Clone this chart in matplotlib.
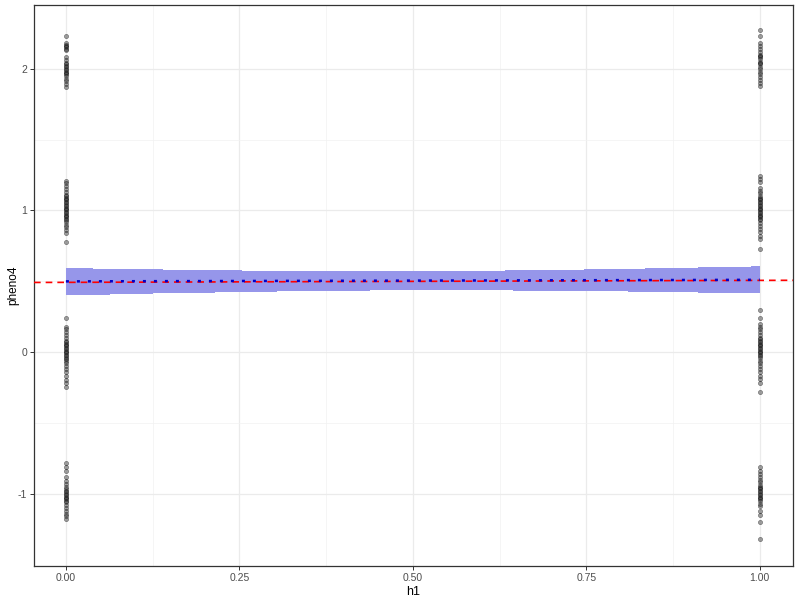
import matplotlib
matplotlib.use("Agg")
import matplotlib.pyplot as plt
import numpy as np

plt.rcParams['font.family'] = ['Liberation Sans', 'DejaVu Sans']

# pheno4 values, for h1 = 0 and h1 = 1
pheno4_at_0 = [2.23, 2.18, 2.17, 2.16, 2.15, 2.14, 2.13, 2.08, 2.06, 2.04, 2.03, 2.02,
               2.01, 2.00, 1.99, 1.98, 1.97, 1.96, 1.95, 1.93, 1.91, 1.89, 1.87,
               1.21, 1.19, 1.17, 1.15, 1.13, 1.11, 1.10, 1.09, 1.08, 1.07, 1.06, 1.05,
               1.04, 1.03, 1.02, 1.01, 1.00, 0.99, 0.98, 0.97, 0.96, 0.95, 0.94, 0.93,
               0.92, 0.90, 0.88, 0.86, 0.84, 0.78,
               0.24, 0.18, 0.16, 0.14, 0.12, 0.10, 0.08, 0.07, 0.06, 0.05, 0.04, 0.03,
               0.02, 0.01, 0.0, -0.01, -0.02, -0.03, -0.04, -0.05, -0.06, -0.08, -0.10,
               -0.12, -0.14, -0.17, -0.20, -0.22, -0.25,
               -0.78, -0.81, -0.84, -0.88, -0.91, -0.93, -0.95, -0.97, -0.98, -0.99,
               -1.00, -1.01, -1.02, -1.03, -1.04, -1.05, -1.06, -1.08, -1.10, -1.12,
               -1.14, -1.16, -1.18]
pheno4_at_1 = [2.27, 2.23, 2.18, 2.16, 2.14, 2.12, 2.10, 2.09, 2.08, 2.07, 2.05, 2.04,
               2.03, 2.01, 2.00, 1.98, 1.96, 1.94, 1.92, 1.90, 1.88,
               1.24, 1.22, 1.20, 1.16, 1.14, 1.12, 1.10, 1.09, 1.08, 1.07, 1.06, 1.05,
               1.04, 1.03, 1.02, 1.01, 1.00, 0.99, 0.98, 0.97, 0.96, 0.95, 0.94, 0.93,
               0.91, 0.89, 0.87, 0.85, 0.82, 0.80, 0.73,
               0.30, 0.24, 0.20, 0.18, 0.16, 0.14, 0.12, 0.10, 0.09, 0.08, 0.07, 0.06,
               0.05, 0.04, 0.03, 0.02, 0.01, 0.0, -0.01, -0.02, -0.03, -0.04, -0.06,
               -0.08, -0.10, -0.12, -0.14, -0.17, -0.19, -0.22, -0.28,
               -0.81, -0.84, -0.86, -0.88, -0.90, -0.92, -0.94, -0.95, -0.96, -0.97,
               -0.98, -0.99, -1.00, -1.01, -1.02, -1.03, -1.04, -1.05, -1.07, -1.09,
               -1.12, -1.15, -1.20, -1.32]

# stepped confidence band
band_x = [0, 0.039, 0.063, 0.125, 0.140, 0.215, 0.254, 0.304, 0.438, 0.633,
          0.644, 0.746, 0.810, 0.834, 0.911, 0.988, 1.0]
band_hi = [0.593, 0.586, 0.586, 0.586, 0.579, 0.579, 0.572, 0.572, 0.572, 0.579,
           0.579, 0.586, 0.586, 0.593, 0.600, 0.607]
band_lo = [0.405, 0.405, 0.412, 0.419, 0.419, 0.427, 0.427, 0.434, 0.441, 0.441,
           0.434, 0.434, 0.427, 0.427, 0.419, 0.419]

fit_x = [0, 1]
fit_y = [0.499, 0.510]
ref_point = (0, 0.492)
ref_slope = 0.014

fig = plt.figure(figsize=(8, 6), dpi=100)
ax = fig.add_axes([0.0425, 0.0567, 0.9488, 0.935])

ax.fill_between(band_x, band_hi + [band_hi[-1]], band_lo + [band_lo[-1]],
                step="post", color="#9696EA", linewidth=0, zorder=2)

ax.scatter(np.zeros(len(pheno4_at_0)), pheno4_at_0, s=9, facecolor="#333333",
           edgecolor="#000000", linewidth=0.5, alpha=0.45, zorder=3)
ax.scatter(np.ones(len(pheno4_at_1)), pheno4_at_1, s=9, facecolor="#333333",
           edgecolor="#000000", linewidth=0.5, alpha=0.45, zorder=3)

ax.axline(ref_point, slope=ref_slope, color="#FF0000", linewidth=1.2,
          linestyle=(0, (4, 3)), zorder=4)
ax.plot(fit_x, fit_y, color="#0000CC", linewidth=1.8, linestyle=(0, (1.2, 3.2)), zorder=5)

ax.set_xlim(-0.046, 1.048)
ax.set_ylim(-1.51, 2.45)
ax.set_xticks([0, 0.25, 0.5, 0.75, 1.0])
ax.set_xticklabels(["0.00", "0.25", "0.50", "0.75", "1.00"])
ax.set_yticks([-1, 0, 1, 2])
ax.set_yticklabels(["-1", "0", "1", "2"])
ax.set_xticks([0.125, 0.375, 0.625, 0.875], minor=True)
ax.set_yticks([-0.5, 0.5, 1.5], minor=True)

ax.grid(True, which="major", color="#EBEBEB", linewidth=0.9, zorder=0)
ax.grid(True, which="minor", color="#F2F2F2", linewidth=0.5, zorder=0)
ax.set_axisbelow(True)
ax.tick_params(which="major", length=3, color="#333333", labelsize=7.5,
               labelcolor="#4D4D4D", width=0.7, pad=2)
ax.tick_params(which="minor", length=0)
for sp in ax.spines.values():
    sp.set_color("#333333")
    sp.set_linewidth(0.9)

ax.set_xlabel("h1", fontsize=9, labelpad=2)
ax.set_ylabel("pheno4", fontsize=8.5)
ax.yaxis.set_label_coords(-0.02, 0.5)

fig.savefig("out.png", dpi=100)
